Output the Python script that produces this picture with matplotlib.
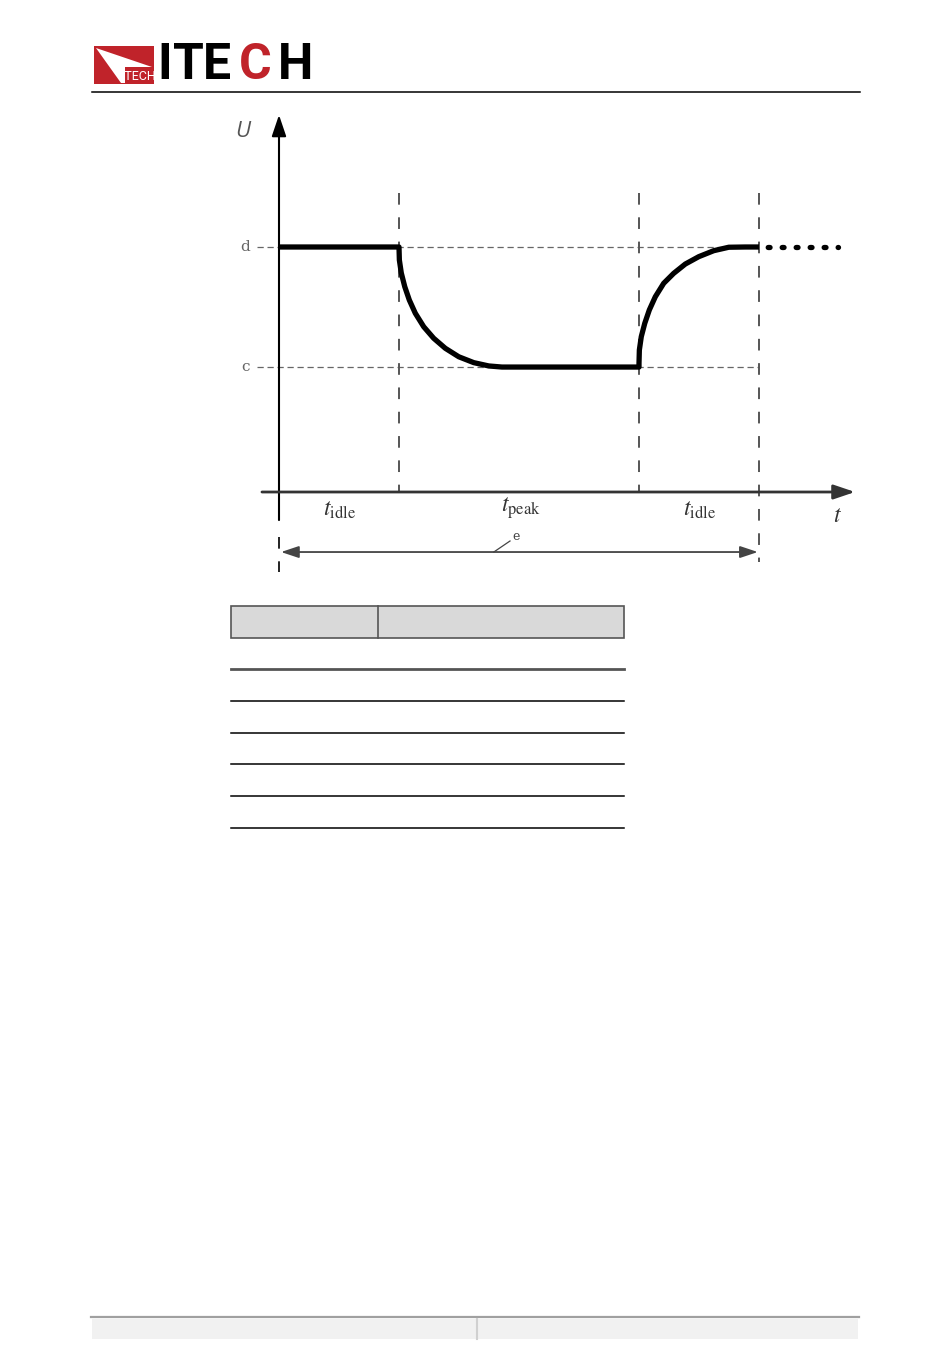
import matplotlib
matplotlib.use("Agg")
import matplotlib.pyplot as plt
from matplotlib.patches import Rectangle, Polygon

# ---------------- data ----------------
phase_t = [0.0, 1.0, 3.0, 4.0]          # phase boundaries (t_idle | t_peak | t_idle)
U_d = 2.0                                # high level "d"
U_c = 1.02                               # low level "c"
fall_t = [1.0, 1.003, 1.019, 1.048, 1.086, 1.136, 1.206, 1.289, 1.386, 1.498,
          1.623, 1.748, 1.858]
fall_U = [2.0, 1.894, 1.788, 1.676, 1.567, 1.459, 1.349, 1.255, 1.173, 1.104,
          1.056, 1.029, 1.02]
rise_t = [3.0, 3.0, 3.003, 3.019, 3.048, 3.086, 3.136, 3.206, 3.289, 3.386,
          3.498, 3.623, 3.748, 3.886, 4.0]
rise_U = [1.02, 1.051, 1.159, 1.268, 1.377, 1.486, 1.594, 1.704, 1.785, 1.861,
          1.921, 1.970, 1.998, 2.0, 2.0]
tail_t = [4.0, 4.66]
tail_U = [2.0, 2.0]
phase_labels = [r"$t_{\mathrm{idle}}$", r"$t_{\mathrm{peak}}$", r"$t_{\mathrm{idle}}$"]
level_labels = ["d", "c"]

W, H = 950, 1353
fig = plt.figure(figsize=(W / 100, H / 100), dpi=100)
plt.rcParams['mathtext.fontset'] = 'stix'

# ---------------- page (header, table, footer) ----------------
pg = fig.add_axes([0, 0, 1, 1])
pg.set_xlim(0, W)
pg.set_ylim(H, 0)
pg.axis('off')

narrow = ['Liberation Sans Narrow', 'Roboto', 'DejaVu Sans']
# logo
red = '#c0232a'
pg.add_patch(Rectangle((94, 46), 60, 38, facecolor=red, edgecolor='none'))
pg.add_patch(Polygon([(96, 48), (152, 67), (125, 67), (125, 83), (121, 83)],
                     closed=True, facecolor='white', edgecolor='none'))
pg.text(139.5, 76, "ITECH", color='white', fontsize=9, family=narrow,
        ha='center', va='center')
letters = ["I", "T", "E", "C", "H"]
letter_x = [164.5, 188, 217, 255, 296]
letter_c = ['black', 'black', 'black', red, 'black']
for ch, x, c in zip(letters, letter_x, letter_c):
    pg.text(x, 65.5, ch, color=c, fontsize=36, family=narrow, fontweight='bold',
            ha='center', va='center')
pg.plot([92, 860], [92, 92], color='black', lw=1.1)

# table
pg.add_patch(Rectangle((231, 606), 393, 32, facecolor='#d9d9d9', edgecolor='#555555', lw=1.2))
pg.plot([378, 378], [606, 638], color='#555555', lw=1.2)
pg.plot([231, 624], [669, 669], color='#555555', lw=2.0)
for y in [701, 733, 764, 796, 828]:
    pg.plot([231, 624], [y, y], color='black', lw=1.1)

# footer
pg.plot([91, 859], [1317, 1317], color='#a0a0a0', lw=1.6)
pg.add_patch(Rectangle((92, 1319), 766, 20, facecolor='#f1f1f1', edgecolor='none'))
pg.plot([477, 477], [1319, 1339], color='#d0d0d0', lw=1.5)

# ---------------- diagram ----------------
px0, py0 = 279, 492          # origin in pixels
sx, sy = 120.0, 122.5        # pixels per unit
L, R, T, B = 230, 870, 105, 580
ax = fig.add_axes([L / W, 1 - B / H, (R - L) / W, (B - T) / H])
ax.set_xlim((L - px0) / sx, (R - px0) / sx)
ax.set_ylim((py0 - B) / sy, (py0 - T) / sy)
ax.axis('off')
ax.patch.set_alpha(0)

gray_d = '#555555'
vdash = (0, (6, 6.5))
# horizontal reference dashes
for lev in [U_d, U_c]:
    ax.plot([-0.183, phase_t[3]], [lev, lev], color='#666666', lw=0.9,
            linestyle=(0, (5, 3)))
# vertical phase dashes
ax.plot([phase_t[1], phase_t[1]], [2.44, 0], color=gray_d, lw=1.4, linestyle=vdash)
ax.plot([phase_t[2], phase_t[2]], [2.44, 0], color=gray_d, lw=1.4, linestyle=vdash)
ax.plot([phase_t[3], phase_t[3]], [2.44, -0.571], color=gray_d, lw=1.4, linestyle=vdash)
ax.plot([phase_t[0], phase_t[0]], [-0.367, -0.653], color='#222222', lw=1.4, linestyle=vdash)

# axes with arrows
ax.annotate('', xy=(0, 3.078), xytext=(0, -0.229),
            arrowprops=dict(arrowstyle='-|>,head_length=0.65,head_width=0.22',
                            color='black', lw=1.5, mutation_scale=20, shrinkA=0, shrinkB=0))
ax.annotate('', xy=(4.8, 0), xytext=(-0.142, 0),
            arrowprops=dict(arrowstyle='-|>,head_length=0.65,head_width=0.22',
                            color='#333333', lw=2.0, mutation_scale=20, shrinkA=0, shrinkB=0))

# waveform
wave_t = [phase_t[0]] + fall_t + rise_t
wave_U = [U_d] + fall_U + rise_U
ax.plot(wave_t, wave_U, color='black', lw=3.8, solid_capstyle='butt', solid_joinstyle='round')
ax.plot(tail_t, tail_U, color='black', lw=3.8, linestyle=(1.0, (0.35, 2.3)),
        dash_capstyle='round')

# period arrow "e"
ax.annotate('', xy=(3.99, -0.49), xytext=(0.017, -0.49),
            arrowprops=dict(arrowstyle='<|-|>,head_length=0.9,head_width=0.3',
                            color='#444444', lw=1.3, mutation_scale=12, shrinkA=0, shrinkB=0))
ax.plot([1.79, 1.925], [-0.49, -0.40], color='#444444', lw=0.9)
ax.text(1.975, -0.367, "e", fontsize=9, color='#444444', ha='center', va='center',
        family='DejaVu Serif')

# labels
label_t = [0.508, 2.017, 3.508]
for lab, x in zip(phase_labels, label_t):
    ax.text(x, -0.135, lab, fontsize=17, color='#333333', ha='center', va='center')
ax.text(4.658, -0.188, r"$t$", fontsize=17, color='#333333', ha='center', va='center')
ax.text(-0.3, 2.939, "U", fontsize=16, color='#555555', ha='center', va='center',
        family='Open Sans', style='italic')
for lab, lev in zip(level_labels, [U_d, U_c]):
    ax.text(-0.28, lev, lab, fontsize=11, color='#666666', ha='center', va='center',
            family='DejaVu Serif')

fig.savefig("out.png", dpi=100)
